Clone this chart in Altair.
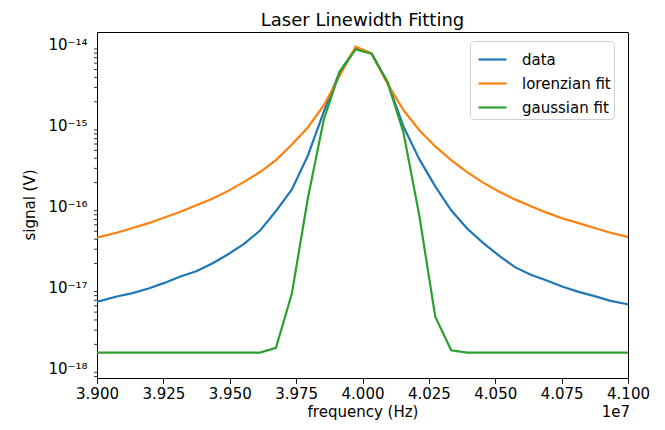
import altair as alt
import pandas as pd

# frequency samples (MHz)
freq_mhz = [38.954, 39.014, 39.074, 39.134, 39.194, 39.254, 39.314, 39.374, 39.434,
            39.494, 39.554, 39.614, 39.674, 39.734, 39.794, 39.854, 39.914, 39.974,
            40.034, 40.094, 40.154, 40.214, 40.274, 40.334, 40.394, 40.454, 40.514,
            40.574, 40.634, 40.694, 40.754, 40.814, 40.874, 40.934, 40.994, 41.054]

data_signal = [6.3e-18, 6.9e-18, 7.8e-18, 8.6e-18, 9.8e-18, 1.15e-17, 1.38e-17, 1.6e-17,
               2.0e-17, 2.6e-17, 3.5e-17, 5.1e-17, 8.9e-17, 1.65e-16, 4.3e-16, 1.5e-15,
               4.7e-15, 9.1e-15, 7.9e-15, 3.5e-15, 9.9e-16, 3.9e-16, 1.8e-16, 9.1e-17,
               5.4e-17, 3.6e-17, 2.5e-17, 1.8e-17, 1.45e-17, 1.23e-17, 1.03e-17, 8.9e-18,
               7.9e-18, 6.9e-18, 6.3e-18, 5.8e-18]

lorentz_signal = [3.8e-17, 4.3e-17, 4.8e-17, 5.5e-17, 6.3e-17, 7.4e-17, 8.7e-17, 1.05e-16,
                  1.26e-16, 1.58e-16, 2.04e-16, 2.7e-16, 3.8e-16, 5.9e-16, 9.6e-16, 1.8e-15,
                  4.2e-15, 9.6e-15, 7.9e-15, 3.35e-15, 1.58e-15, 8.9e-16, 5.6e-16, 3.8e-16,
                  2.7e-16, 2.0e-16, 1.55e-16, 1.24e-16, 1.02e-16, 8.5e-17, 7.2e-17, 6.3e-17,
                  5.5e-17, 4.8e-17, 4.3e-17, 3.8e-17]

gauss_signal = [1.58e-18, 1.58e-18, 1.58e-18, 1.58e-18, 1.58e-18, 1.58e-18, 1.58e-18, 1.58e-18,
                1.58e-18, 1.58e-18, 1.58e-18, 1.58e-18, 1.81e-18, 8.5e-18, 1.27e-16, 1.2e-15,
                4.66e-15, 8.87e-15, 7.86e-15, 3.51e-15, 8.4e-16, 7.8e-17, 4.4e-18, 1.69e-18,
                1.58e-18, 1.58e-18, 1.58e-18, 1.58e-18, 1.58e-18, 1.58e-18, 1.58e-18, 1.58e-18,
                1.58e-18, 1.58e-18, 1.58e-18, 1.58e-18]

series_names = ["data", "lorenzian fit", "gaussian fit"]
series_colors = ["#1f77b4", "#ff7f0e", "#2ca02c"]

x_ticks = [3.9e7, 3.925e7, 3.95e7, 3.975e7, 4.0e7, 4.025e7, 4.05e7, 4.075e7, 4.1e7]
y_ticks = [1e-18, 1e-17, 1e-16, 1e-15, 1e-14]
y_tick_labels = ["10⁻¹⁸", "10⁻¹⁷", "10⁻¹⁶", "10⁻¹⁵", "10⁻¹⁴"]
y_minor = [8e-19, 9e-19] + [m * d for d in [1e-18, 1e-17, 1e-16, 1e-15] for m in range(2, 10)]

title_text = "Laser Linewidth Fitting"
y_title = "signal (V)"
x_title = "frequency (Hz)"
offset_label = "1e7"

rows = []
for name, vals in zip(series_names, [data_signal, lorentz_signal, gauss_signal]):
    for f, v in zip(freq_mhz, vals):
        rows.append({"freq": f * 1e6, "signal": v, "series": name})
df = pd.DataFrame(rows)

FONT = "DejaVu Sans"
W, H = 531, 346

x_scale = alt.Scale(domain=[3.9e7, 4.1e7], nice=False, zero=False)
y_scale = alt.Scale(type="log", domain=[7.67e-19, 1.456e-14], nice=False)

lines = alt.Chart(df).mark_line(clip=True, strokeWidth=2.2).encode(
    x=alt.X("freq:Q", scale=x_scale,
            axis=alt.Axis(values=x_ticks, labelExpr="format(datum.value / 1e7, '.3f')",
                          title=x_title, labelFlush=False, labelOverlap=False,
                          labelPadding=3, titlePadding=3)),
    y=alt.Y("signal:Q", scale=y_scale,
            axis=alt.Axis(values=y_ticks, labels=False, title=None)),
    color=alt.Color("series:N",
                    scale=alt.Scale(domain=series_names, range=series_colors),
                    legend=alt.Legend(orient="none", legendX=373, legendY=9, title=None,
                                      symbolType="stroke", symbolStrokeWidth=2.2,
                                      symbolSize=784, symbolOffset=4,
                                      labelFontSize=15, labelFont=FONT,
                                      labelColor="#000", strokeColor="#d0d0d0",
                                      fillColor="white", padding=3, cornerRadius=4,
                                      rowPadding=-6, labelOffset=14)),
    order=alt.Order("freq:Q"),
)

minor = alt.Chart(pd.DataFrame({"m": y_minor})).mark_rule(color="#000", strokeWidth=0.8).encode(
    y=alt.Y("m:Q", scale=y_scale, axis=None),
    x=alt.value(0),
    x2=alt.value(-3),
)

ylabels = alt.Chart(pd.DataFrame({"v": y_ticks, "lab": y_tick_labels})).mark_text(
    align="right", baseline="middle", fontSize=15, font=FONT, color="#000"
).encode(
    y=alt.Y("v:Q", scale=y_scale, axis=None),
    x=alt.value(-9.5),
    text="lab:N",
)

ytitle = alt.Chart(pd.DataFrame({"t": [y_title]})).mark_text(
    angle=270, align="center", baseline="middle", fontSize=15, font=FONT, color="#000"
).encode(text="t:N", x=alt.value(-67), y=alt.value(H / 2))

ctitle = alt.Chart(pd.DataFrame({"t": [title_text]})).mark_text(
    align="center", baseline="alphabetic", fontSize=18, font=FONT, color="#000"
).encode(text="t:N", x=alt.value(W / 2), y=alt.value(-6))

offset_text = alt.Chart(pd.DataFrame({"t": [offset_label]})).mark_text(
    align="right", baseline="middle", fontSize=15, font=FONT, color="#000"
).encode(text="t:N", x=alt.value(W + 2), y=alt.value(H + 34))

chart = alt.layer(lines, minor, ylabels, ytitle, ctitle, offset_text).properties(
    width=W, height=H,
    autosize=alt.AutoSizeParams(type="none"),
    padding={"left": 89, "top": 24, "right": 29, "bottom": 44},
).configure_view(
    stroke="#000", strokeWidth=1
).configure_axis(
    grid=False, domain=False, tickColor="#000", tickSize=5.5, tickWidth=0.9,
    labelFont=FONT, labelFontSize=15, labelColor="#000",
    titleFont=FONT, titleFontSize=15, titleColor="#000", titleFontWeight="normal",
)

chart.save("out.html", embed_options={"renderer": "svg", "actions": False})
